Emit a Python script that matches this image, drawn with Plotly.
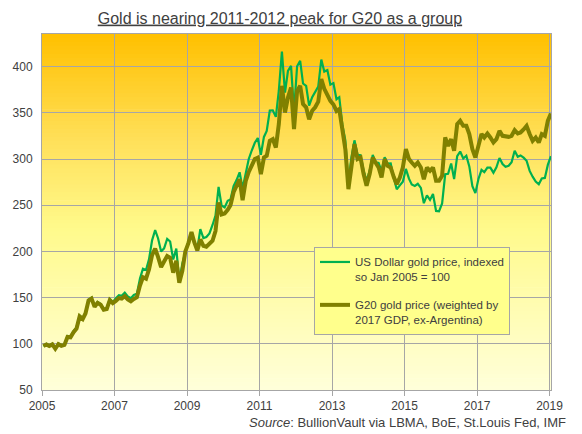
import plotly.graph_objects as go

# ---------------- data (monthly, Jan 2005 .. Jan 2019) ----------------
usd_index = [
    # 2005
    97.5, 100.0, 98.1, 100.0, 95.1, 100.3, 98.5, 99.5, 108.6, 108.1, 113.8, 117.8,
    # 2006
    130.6, 127.6, 133.6, 147.8, 149.9, 140.8, 145.2, 143.1, 137.6, 138.6, 148.5, 145.1,
    # 2007
    149.3, 152.5, 151.9, 155.4, 151.3, 149.3, 152.8, 154.3, 170.6, 181.2, 179.9, 191.4,
    # 2008
    212.0, 223.0, 214.3, 200.0, 203.3, 213.6, 210.7, 191.2, 203.1, 167.8, 187.0, 199.7,
    # 2009
    211.1, 218.5, 210.4, 202.8, 224.0, 214.5, 215.6, 219.4, 228.6, 238.8, 269.9, 249.7,
    # 2010
    247.6, 254.7, 256.1, 270.7, 277.2, 285.6, 268.4, 286.0, 300.0, 309.2, 317.6, 322.7,
    # 2011
    304.6, 323.9, 330.4, 352.5, 352.7, 345.6, 373.9, 416.3, 371.9, 395.3, 400.8, 351.5,
    # 2012
    400.4, 406.3, 381.7, 379.1, 357.7, 367.0, 372.4, 378.4, 407.7, 394.6, 396.2, 380.5,
    # 2013
    382.2, 364.7, 366.9, 337.2, 320.1, 273.6, 301.8, 320.2, 304.5, 304.0, 287.6, 276.5,
    # 2014
    287.2, 304.5, 296.5, 295.8, 287.1, 301.9, 295.1, 295.2, 279.3, 267.3, 271.5, 275.3,
    # 2015
    289.3, 278.7, 272.5, 270.9, 273.2, 268.8, 252.2, 260.6, 255.7, 262.2, 243.8, 243.3,
    # 2016
    251.9, 283.5, 284.0, 295.1, 278.3, 303.2, 308.1, 300.6, 303.6, 292.0, 270.5, 263.1,
    # 2017
    278.4, 288.2, 285.8, 290.7, 290.7, 285.2, 291.0, 301.1, 294.6, 291.6, 292.7, 296.4,
    # 2018
    309.0, 302.5, 303.9, 301.5, 298.1, 287.1, 280.9, 275.6, 272.6, 278.9, 279.5, 293.6,
    # 2019
    303.0,
]

g20_index = [
    # 2005
    97.5, 99.3, 97.6, 99.3, 94.6, 99.6, 97.8, 98.8, 107.4, 107.0, 112.6, 116.6,
    # 2006
    129.6, 126.8, 132.8, 146.8, 148.9, 140.0, 144.3, 142.3, 136.8, 137.6, 147.3, 144.0,
    # 2007
    146.5, 149.5, 149.0, 151.5, 148.0, 146.0, 148.5, 150.5, 163.0, 172.0, 170.5, 180.5,
    # 2008
    196.0, 203.0, 194.0, 183.0, 189.0, 195.0, 193.0, 177.0, 190.0, 166.0, 179.0, 200.0,
    # 2009
    209.0, 221.0, 210.0, 201.0, 213.0, 206.0, 205.0, 208.0, 211.5, 222.0, 253.0, 240.0,
    # 2010
    241.0, 245.0, 250.0, 264.0, 272.0, 278.0, 255.5, 276.0, 286.0, 293.0, 300.0, 301.5,
    # 2011
    283.7, 301.6, 303.5, 319.7, 321.5, 312.5, 337.8, 379.2, 350.3, 366.6, 377.4, 332.4,
    # 2012
    373.8, 379.2, 359.4, 356.0, 343.0, 352.2, 356.0, 362.0, 386.5, 376.0, 369.0, 363.0,
    # 2013
    359.0, 352.0, 354.0, 328.0, 310.7, 267.4, 294.5, 316.1, 300.0, 301.6, 283.7, 271.0,
    # 2014
    283.7, 301.6, 296.2, 290.8, 280.0, 299.9, 292.6, 290.8, 280.5, 272.8, 280.0, 290.8,
    # 2015
    310.7, 299.9, 296.2, 292.6, 296.2, 290.8, 278.2, 290.8, 287.2, 290.8, 276.4, 276.4,
    # 2016
    281.8, 323.3, 314.3, 321.5, 308.9, 337.8, 341.3, 335.9, 335.9, 327.0, 310.7, 301.6,
    # 2017
    314.3, 327.0, 323.3, 327.6, 323.3, 317.9, 321.5, 330.5, 325.1, 324.0, 324.0, 325.1,
    # 2018
    331.3, 327.6, 328.7, 332.0, 335.9, 327.0, 319.7, 323.3, 317.9, 327.0, 325.1, 341.3,
    # 2019
    349.2,
]

months = [f"{2005 + i // 12}-{i % 12 + 1:02d}-15" for i in range(len(usd_index))]

series_names = [
    "US Dollar gold price, indexed<br>so Jan 2005 = 100",
    "G20 gold price (weighted by<br>2017 GDP, ex-Argentina)",
]
title_text = "Gold is nearing 2011-2012 peak for G20 as a group"
source_text = "<i>Source</i>: BullionVault via LBMA, BoE, St.Louis Fed, IMF"

# ---------------- figure ----------------
FONT = "Liberation Sans, Arial, sans-serif"
TXT = "#404040"
GRID = "#A6A6A6"

fig = go.Figure()
fig.add_trace(go.Scatter(
    x=months, y=usd_index, mode="lines", name=series_names[0],
    line=dict(color="#00B050", width=2.2), legendgroup="a",
))
fig.add_trace(go.Scatter(
    x=months, y=g20_index, mode="lines", name=series_names[1],
    line=dict(color="#808000", width=4), legendgroup="b",
))

# vertical gradient background of the plot area
stops = [(0.0, (255, 192, 0)), (0.3, (255, 224, 90)), (0.55, (255, 250, 140)), (1.0, (255, 255, 218))]
def col(t):
    for (t0, c0), (t1, c1) in zip(stops[:-1], stops[1:]):
        if t <= t1:
            f = (t - t0) / (t1 - t0)
            return "rgb(%d,%d,%d)" % tuple(round(a + (b - a) * f) for a, b in zip(c0, c1))
    return "rgb(%d,%d,%d)" % stops[-1][1]

N = 90
shapes = []
for i in range(N):
    t = (i + 0.5) / N  # 0 top -> 1 bottom
    y1 = 1 - i / N
    y0 = 1 - (i + 1) / N - 0.002
    shapes.append(dict(type="rect", xref="paper", yref="paper", x0=0, x1=1,
                       y0=max(y0, 0), y1=y1, fillcolor=col(t), line=dict(width=0), layer="below"))

fig.update_layout(
    width=582, height=434,
    margin=dict(l=42, r=31, t=34, b=44),
    paper_bgcolor="white", plot_bgcolor="rgba(0,0,0,0)",
    shapes=shapes,
    font=dict(family=FONT, color=TXT, size=12),
    title=dict(text=f"<u>{title_text}</u>", x=0.481, xanchor="center",
               yref="container", y=1 - 18 / 434, yanchor="middle",
               font=dict(size=16, color=TXT, family=FONT)),
    xaxis=dict(type="date", range=["2005-01-01", "2019-01-16"], dtick="M24", tick0="2005-01-01",
               tickformat="%Y", showgrid=True, gridcolor=GRID, gridwidth=1,
               showline=True, linecolor=GRID, linewidth=1, mirror=True,
               ticks="outside", ticklen=5, tickcolor=GRID, zeroline=False,
               tickfont=dict(size=12, color=TXT)),
    yaxis=dict(range=[50, 435.3], dtick=50, tick0=50, showgrid=True, gridcolor=GRID, gridwidth=1,
               showline=True, linecolor=GRID, linewidth=1, mirror=True, zeroline=False,
               ticks="", ticklabelstandoff=6, tickfont=dict(size=12, color=TXT)),
    legend=dict(x=0.5344, y=0.4017, xanchor="left", yanchor="top",
                bgcolor="#FFFF8C", bordercolor=GRID, borderwidth=1,
                font=dict(size=11.5, color=TXT, family=FONT),
                valign="top", traceorder="grouped", tracegroupgap=10),
    annotations=[dict(text=source_text, xref="paper", yref="paper",
                      x=(568 - 42) / 509, y=(390 - 422) / 356, xanchor="right", yanchor="middle",
                      showarrow=False, font=dict(size=13, color=TXT, family=FONT))],
)

fig.write_html("out.html", config={"displayModeBar": False},
               post_script="document.body.style.margin='0';document.body.style.overflow='hidden';")
